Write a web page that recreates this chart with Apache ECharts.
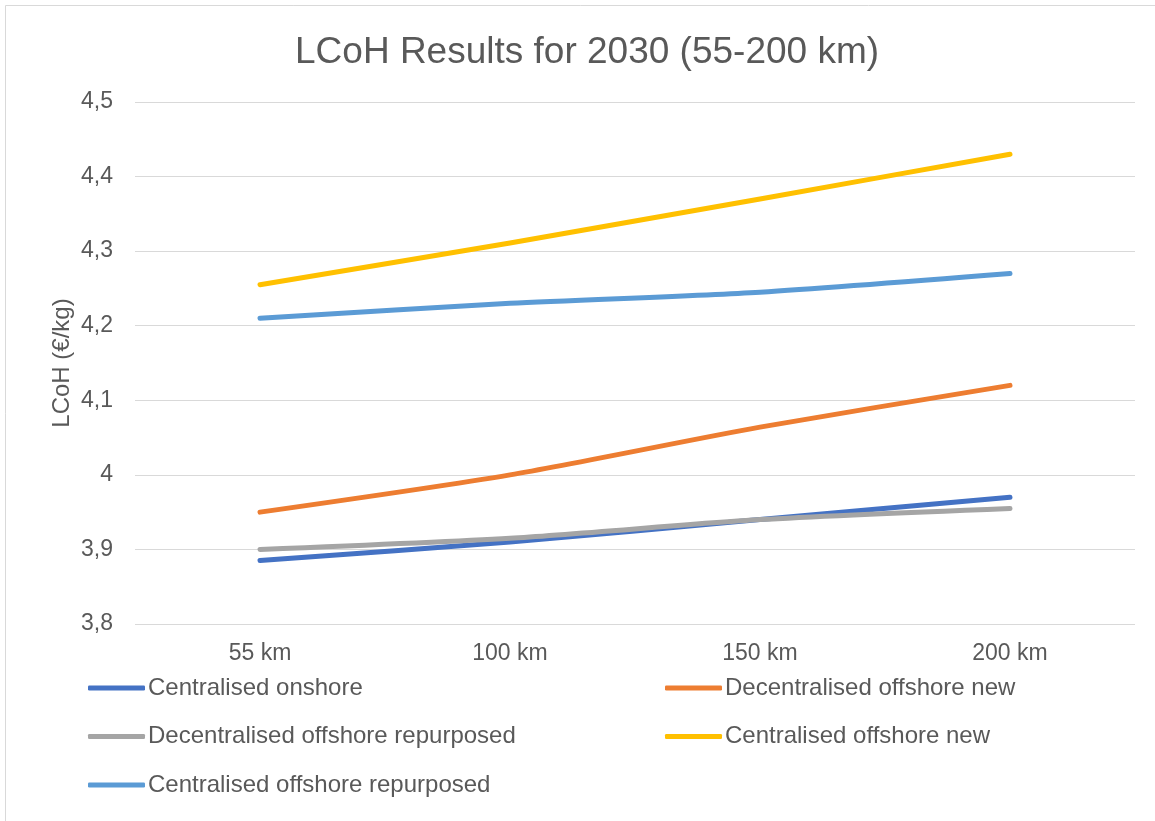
<!DOCTYPE html>
<html>
<head>
<meta charset="utf-8">
<title>LCoH Results for 2030</title>
<script src="https://cdn.jsdelivr.net/npm/echarts@6/dist/echarts.min.js"></script>
<style>
  html, body { margin: 0; padding: 0; background: #fff; }
  #chart { width: 1155px; height: 821px; }
</style>
</head>
<body>
<div id="chart"></div>
<script>
// Pipeline distance categories
const distances = ['55 km', '100 km', '150 km', '200 km'];

// LCoH (€/kg) per configuration
const centralisedOnshore = [3.885, 3.91, 3.94, 3.97];
const decentralisedOffshoreNew = [3.95, 4.0, 4.064, 4.12];
const decentralisedOffshoreRepurposed = [3.90, 3.915, 3.94, 3.955];
const centralisedOffshoreNew = [4.255, 4.311, 4.37, 4.43];
const centralisedOffshoreRepurposed = [4.21, 4.23, 4.245, 4.27];

const seriesNames = [
  'Centralised onshore',
  'Decentralised offshore new',
  'Decentralised offshore repurposed',
  'Centralised offshore new',
  'Centralised offshore repurposed'
];
const seriesValues = [
  centralisedOnshore,
  decentralisedOffshoreNew,
  decentralisedOffshoreRepurposed,
  centralisedOffshoreNew,
  centralisedOffshoreRepurposed
];
const seriesColors = ['#4472C4', '#ED7D31', '#A5A5A5', '#FFC000', '#5B9BD5'];

const textColor = '#595959';
const fontFamily = 'Liberation Sans, Arial, sans-serif';

const chart = echarts.init(document.getElementById('chart'), null, { renderer: 'canvas' });

const legendCommon = {
  orient: 'vertical',
  padding: 0,
  icon: 'roundRect',
  itemWidth: 57,
  itemHeight: 5,
  itemGap: 24.5,
  textStyle: { color: textColor, fontSize: 24, fontFamily: fontFamily, padding: [0, 0, 0, -2] }
};

chart.setOption({
  backgroundColor: '#ffffff',
  animation: false,
  color: seriesColors,
  title: {
    text: 'LCoH Results for 2030 (55-200 km)',
    left: 290,
    top: 29,
    textStyle: { color: textColor, fontSize: 37, fontWeight: 'normal', fontFamily: fontFamily }
  },
  graphic: [{
    type: 'rect',
    shape: { x: 5.5, y: 5.5, width: 1200, height: 900 },
    style: { fill: 'none', stroke: '#d9d9d9', lineWidth: 1 },
    silent: true
  }],
  legend: [
    Object.assign({ left: 88, top: 676, data: [seriesNames[0], seriesNames[2], seriesNames[4]] }, legendCommon),
    Object.assign({ left: 665, top: 676, data: [seriesNames[1], seriesNames[3]] }, legendCommon)
  ],
  grid: { left: 135, right: 20, top: 102, bottom: 197, containLabel: false },
  xAxis: {
    type: 'category',
    data: distances,
    boundaryGap: true,
    axisLine: { show: false },
    axisTick: { show: false },
    axisLabel: { color: textColor, fontSize: 23, fontFamily: fontFamily, margin: 18 }
  },
  yAxis: {
    type: 'value',
    min: 3.8,
    max: 4.5,
    interval: 0.1,
    name: 'LCoH (€/kg)',
    nameLocation: 'middle',
    nameGap: 61,
    nameMoveOverlap: false,
    nameTextStyle: { color: textColor, fontSize: 24, fontFamily: fontFamily },
    axisLine: { show: false },
    axisTick: { show: false },
    splitLine: { lineStyle: { color: '#d9d9d9', width: 1 } },
    axisLabel: {
      color: textColor,
      fontSize: 23,
      fontFamily: fontFamily,
      margin: 22,
      formatter: function (v) {
        return String(parseFloat(v.toFixed(1))).replace('.', ',');
      }
    }
  },
  series: seriesNames.map(function (name, i) {
    return {
      name: name,
      type: 'line',
      data: seriesValues[i],
      smooth: 0.25,
      symbol: 'none',
      lineStyle: { width: 5, color: seriesColors[i], cap: 'round', join: 'round' },
      itemStyle: { color: seriesColors[i] },
      z: [2, 3, 4, 5, 6][i]
    };
  })
});
</script>
</body>
</html>
